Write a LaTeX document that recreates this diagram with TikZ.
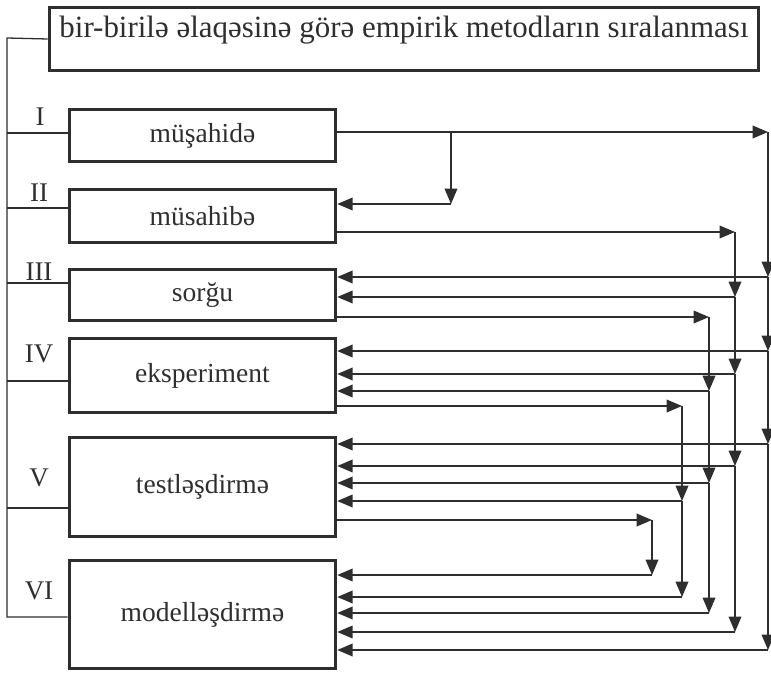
\documentclass[tikz,border=0pt]{standalone}
\usepackage{fontspec}
\setmainfont{Liberation Serif}
\usetikzlibrary{arrows.meta,positioning}
\definecolor{ink}{HTML}{2E2E2E}

\begin{document}
\begin{tikzpicture}[x=0.3mm, y=-0.3mm, >={Triangle[length=4.6mm,width=3.8mm]},
  wire/.style={draw=ink, line width=1.1pt},
  feed/.style={wire, ->},
  method/.style={draw=ink, line width=3pt, text=ink, minimum width=79.8mm, inner sep=0pt, font=\fontsize{23.5}{27}\selectfont},
  titlebox/.style={draw=ink, line width=3pt, text=ink, minimum width=212.7mm, inner sep=0pt, font=\fontsize{26.4}{30}\selectfont},
  numeral/.style={text=ink, inner sep=0pt, font=\fontsize{23}{27}\selectfont}]
\path[use as bounding box] (0,0) rectangle (771,673);

% heading and the six methods
\node[titlebox, text height=9.15mm, text depth=9.75mm, anchor=base] (head) at (404,38) {bir-birilə əlaqəsinə görə empirik metodların sıralanması};
\node[method, minimum height=15.6mm] (obs) at (202.5,135.5) {müşahidə};
\node[method, minimum height=15.9mm] (intv) at (202.5,216) {müsahibə};
\node[method, minimum height=15.3mm] (surv) at (202.5,295) {sorğu};
\node[method, minimum height=22.2mm] (expt) at (202.5,375.5) {eksperiment};
\node[method, minimum height=29.7mm] (test) at (202.5,487) {testləşdirmə};
\node[method, minimum height=32.4mm] (model) at (202.5,614.5) {modelləşdirmə};

% roman numbers
\node[numeral] (nI) at (40,117) {I};
\node[numeral] (nII) at (39,193) {II};
\node[numeral] (nIII) at (39,272) {III};
\node[numeral] (nIV) at (39,354) {IV};
\node[numeral] (nV) at (39,478) {V};
\node[numeral] (nVI) at (39,591) {VI};

% left spine
\coordinate (top) at (7,38);
\coordinate (tmodel) at (7,617);
\draw[wire] (head.west) -- (top) -- (tmodel) -- (model.west |- tmodel);
\foreach \b/\y in {obs/133, intv/208, surv/283, expt/381, test/508} {
  \coordinate (t\b) at (7,\y);
  \draw[wire] (t\b) -- (\b.west |- t\b);
}

% müşahidə -> müsahibə
\coordinate (f0) at (451,132);
\coordinate (f1) at (451,204);
\draw[feed] (f0) -- (f1);
\draw[feed] (f1) -- (intv.east |- f1);

% müşahidə -> all below
\coordinate (a0) at (768,132);
\coordinate (a1) at (768,277);
\coordinate (a2) at (768,351);
\coordinate (a3) at (768,444);
\coordinate (a4) at (768,650);
\draw[feed] (obs.east |- a0) -- (a0);
\foreach \i/\j/\b in {0/1/surv, 1/2/expt, 2/3/test, 3/4/model} {
  \draw[feed] (a\i) -- (a\j);
  \draw[feed] (a\j) -- (\b.east |- a\j);
}

% müsahibə -> all below
\coordinate (b0) at (735,232);
\coordinate (b1) at (735,297);
\coordinate (b2) at (735,374);
\coordinate (b3) at (735,466);
\coordinate (b4) at (735,632);
\draw[feed] (intv.east |- b0) -- (b0);
\foreach \i/\j/\b in {0/1/surv, 1/2/expt, 2/3/test, 3/4/model} {
  \draw[feed] (b\i) -- (b\j);
  \draw[feed] (b\j) -- (\b.east |- b\j);
}

% sorğu -> all below
\coordinate (c0) at (709,317);
\coordinate (c1) at (709,391);
\coordinate (c2) at (709,483);
\coordinate (c3) at (709,613);
\draw[feed] (surv.east |- c0) -- (c0);
\foreach \i/\j/\b in {0/1/expt, 1/2/test, 2/3/model} {
  \draw[feed] (c\i) -- (c\j);
  \draw[feed] (c\j) -- (\b.east |- c\j);
}

% eksperiment -> all below
\coordinate (d0) at (682,406);
\coordinate (d1) at (682,501);
\coordinate (d2) at (682,597);
\draw[feed] (expt.east |- d0) -- (d0);
\foreach \i/\j/\b in {0/1/test, 1/2/model} {
  \draw[feed] (d\i) -- (d\j);
  \draw[feed] (d\j) -- (\b.east |- d\j);
}

% testləşdirmə -> modelləşdirmə
\coordinate (e0) at (652,520);
\coordinate (e1) at (652,575);
\draw[feed] (test.east |- e0) -- (e0);
\draw[feed] (e0) -- (e1);
\draw[feed] (e1) -- (model.east |- e1);
\end{tikzpicture}
\end{document}
